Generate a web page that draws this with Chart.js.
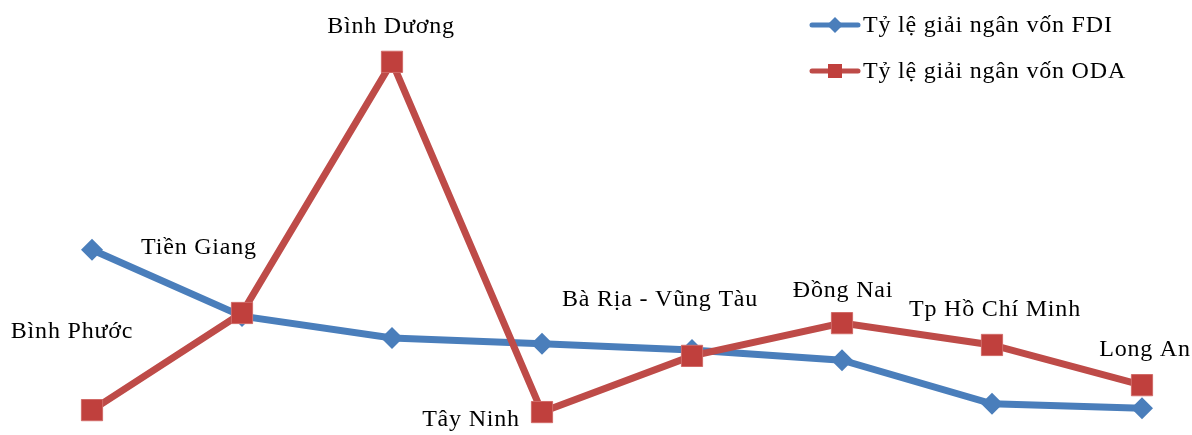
<!DOCTYPE html>
<html lang="vi">
<head>
<meta charset="utf-8">
<title>Tỷ lệ giải ngân</title>
<script src="https://cdn.jsdelivr.net/npm/chart.js@4.4.0/dist/chart.umd.min.js"></script>
<style>
  html, body { margin: 0; padding: 0; background: #fff; }
  #wrap { width: 1192px; height: 435px; }
</style>
</head>
<body>
<div id="wrap"><canvas id="myChart"></canvas></div>
<script>
// provinces, left to right
var provinces = ['Bình Phước', 'Tiền Giang', 'Bình Dương', 'Tây Ninh',
                 'Bà Rịa - Vũng Tàu', 'Đồng Nai', 'Tp Hồ Chí Minh', 'Long An'];
var fdiRate = [46.2, 29.2, 23.6, 22.1, 20.5, 17.9, 6.7, 5.6];
var odaRate = [5.1, 30.0, 94.4, 4.6, 19.0, 27.4, 21.8, 11.5];
var seriesNames = ['Tỷ lệ giải ngân vốn FDI', 'Tỷ lệ giải ngân vốn ODA'];

var FONT = '24px "Liberation Serif", serif';
var SPACING = '0.8px';
var BLUE = '#4a7ebb';
var RED = '#be4b48';

// where each province name sits relative to its ODA point (dx, dy of text centre)
var labelOffsets = [[-20, -78], [-43, -65], [-1, -35], [-71, 8],
                    [-32, -56], [1, -32], [3, -35], [3, -35]];

var provinceLabels = {
    id: 'provinceLabels',
    afterDatasetsDraw: function (chart) {
        var ctx = chart.ctx;
        var meta = chart.getDatasetMeta(1);
        ctx.save();
        ctx.font = FONT;
        ctx.letterSpacing = SPACING;
        ctx.fillStyle = '#000';
        ctx.textAlign = 'center';
        ctx.textBaseline = 'middle';
        meta.data.forEach(function (pt, i) {
            var off = labelOffsets[i];
            ctx.fillText(provinces[i], pt.x + off[0], pt.y + off[1]);
        });
        ctx.restore();
    }
};

// legend: short line with the marker in the middle
var sideLegend = {
    id: 'sideLegend',
    afterDraw: function (chart) {
        var ctx = chart.ctx;
        var x0 = 812, rows = [25, 71];
        ctx.save();
        ctx.font = FONT;
        ctx.letterSpacing = SPACING;
        ctx.textBaseline = 'middle';
        chart.data.datasets.forEach(function (ds, i) {
            var y = rows[i];
            ctx.strokeStyle = ds.borderColor;
            ctx.lineWidth = 5;
            ctx.lineCap = 'round';
            ctx.beginPath();
            ctx.moveTo(x0, y);
            ctx.lineTo(x0 + 46, y);
            ctx.stroke();
            ctx.fillStyle = ds.pointBackgroundColor;
            if (i === 0) {
                ctx.beginPath();
                ctx.moveTo(x0 + 23, y - 8);
                ctx.lineTo(x0 + 31, y);
                ctx.lineTo(x0 + 23, y + 8);
                ctx.lineTo(x0 + 15, y);
                ctx.closePath();
                ctx.fill();
            } else {
                ctx.fillRect(x0 + 16, y - 7, 14, 14);
            }
            ctx.fillStyle = '#000';
            ctx.fillText(ds.label, x0 + 51, y + 1);
        });
        ctx.restore();
    }
};

new Chart(document.getElementById('myChart'), {
    type: 'line',
    data: {
        labels: provinces,
        datasets: [{
            label: seriesNames[0],
            data: fdiRate,
            order: 1,
            borderColor: BLUE,
            backgroundColor: BLUE,
            pointBackgroundColor: BLUE,
            pointBorderColor: BLUE,
            borderWidth: 7,
            pointStyle: 'rectRot',
            pointRadius: 11,
            pointBorderWidth: 0,
            tension: 0
        }, {
            label: seriesNames[1],
            data: odaRate,
            order: 0,
            borderColor: RED,
            backgroundColor: RED,
            pointBackgroundColor: '#c0403d',
            pointBorderColor: '#d16a67',
            borderWidth: 7,
            pointStyle: 'rect',
            pointRadius: 15,
            pointBorderWidth: 1,
            tension: 0
        }]
    },
    options: {
        responsive: true,
        maintainAspectRatio: false,
        animation: false,
        layout: { autoPadding: false, padding: { left: 92, right: 50, top: 40, bottom: 5 } },
        plugins: { legend: { display: false }, tooltip: { enabled: false } },
        scales: {
            x: { display: false, offset: false },
            y: { display: false, min: 0, max: 100 }
        }
    },
    plugins: [provinceLabels, sideLegend]
});
</script>
</body>
</html>
